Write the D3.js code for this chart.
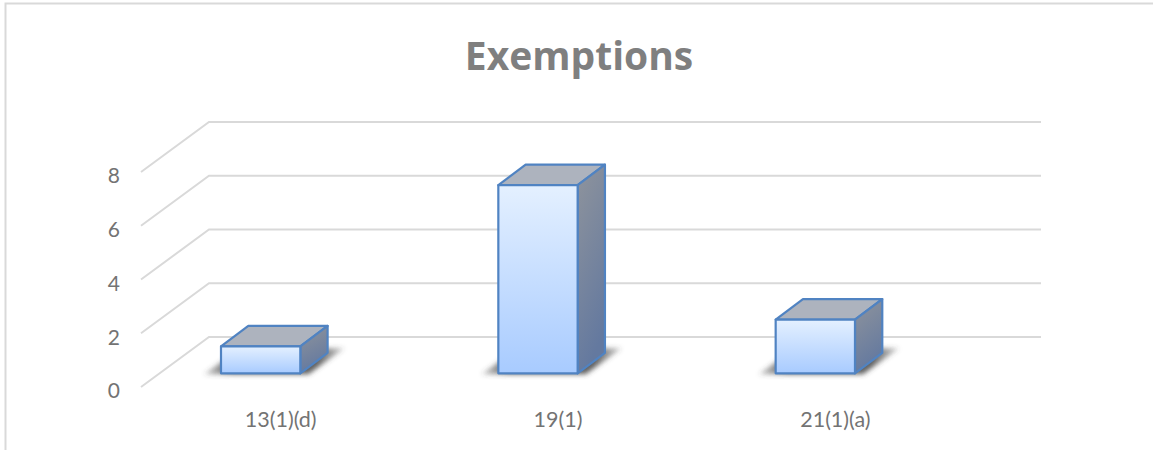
<!DOCTYPE html>
<html><head><meta charset="utf-8">
<script src="https://cdn.jsdelivr.net/npm/d3@7/dist/d3.min.js"></script>
<style>html,body{margin:0;padding:0;background:#fff}svg{display:block}text{font-variant-ligatures:none}</style>
</head><body><svg id="c" width="1153" height="450"></svg>
<script>
const categories = ["13(1)(d)", "19(1)", "21(1)(a)"];
const values = [1, 7, 2];
const tickValues = [0, 2, 4, 6, 8];
const titleText = "Exemptions";

const svg = d3.select("#c");
const font = "Lato, 'Open Sans', sans-serif";
const wallDx = 68, wallDy = -50;     // floor depth vector
const barDx = 27.3, barDy = -20.5;   // bar depth vector
const barInsetY = 13.7;              // bar front sits this far behind floor front
const y = d3.scaleLinear().domain([0, 8]).range([387, 172]);
const x = d3.scaleBand().domain(categories).range([141, 973]);
const barW = x.bandwidth() * 0.286;
const barX = d => x(d) + 80;

const defs = svg.append("defs");
const grad = (id, stops, x2, y2) => {
  const g = defs.append("linearGradient").attr("id", id).attr("x1", 0).attr("y1", 0).attr("x2", x2).attr("y2", y2);
  stops.forEach(([o, c]) => g.append("stop").attr("offset", o).attr("stop-color", c[0]).attr("stop-opacity", c[1] === undefined ? 1 : c[1]));
};
grad("front", [[0, ["#e4f0ff"]], [1, ["#a8cbff"]]], 0, 1);
grad("side", [[0, ["#8f949c"]], [1, ["#64799f"]]], 0.3, 1);
grad("shadow", [[0, ["#444", 0.25]], [0.2, ["#444", 0.85]], [0.8, ["#444", 0.85]], [1, ["#444", 0.25]]], 1, 0);
defs.append("filter").attr("id", "blur").attr("x", "-30%").attr("y", "-100%").attr("width", "160%").attr("height", "300%")
  .append("feGaussianBlur").attr("stdDeviation", 2.4);

// frame
svg.append("path").attr("d", "M5.5,450V3.5H1153").attr("fill", "none").attr("stroke", "#d9d9d9").attr("stroke-width", 2);

// title
svg.append("text").attr("x", 579).attr("y", 70).attr("text-anchor", "middle")
  .attr("font-family", "'Open Sans', sans-serif").attr("font-weight", 700).attr("font-size", 39).attr("fill", "#7f7f7f").text(titleText);

// grid: side wall diagonals and back wall
const grid = svg.append("g").attr("fill", "none").attr("stroke", "#d9d9d9").attr("stroke-width", 2);
tickValues.forEach(t => {
  grid.append("path").attr("d", d3.line()([
    [x.range()[0], y(t)],
    [x.range()[0] + wallDx, y(t) + wallDy],
    [x.range()[1] + wallDx, y(t) + wallDy]
  ]));
});

// axis labels
svg.append("g").selectAll("text").data(tickValues).join("text")
  .attr("x", 120).attr("y", d => y(d) + 4).attr("dy", "0.35em").attr("text-anchor", "end")
  .attr("font-family", font).attr("font-size", 21).attr("fill", "#737373").text(d => d);
svg.append("g").selectAll("text").data(categories).join("text")
  .attr("x", d => x(d) + x.bandwidth() / 2 + 1).attr("y", 427).attr("text-anchor", "middle")
  .attr("font-family", font).attr("font-size", 21.5).attr("fill", "#737373").text(d => d);

// bars
const base = y(0) - barInsetY;
const h = d3.scaleLinear().domain([0, 8]).range([0, y(0) - y(8)]);
const bars = svg.append("g").selectAll("g").data(categories.map((c, i) => ({c, v: values[i]}))).join("g");
bars.append("path").attr("filter", "url(#blur)").attr("fill", "url(#shadow)")
  .attr("d", d => { const l = barX(d.c), r = l + barW; return d3.line()([[l - 17, base + 1], [r + 8, base + 1], [r + 44, base - 25], [l + 20, base - 25]]) + "Z"; });
const st = s => s.attr("stroke", "#5083c2").attr("stroke-width", 2.2).attr("stroke-linejoin", "round");
bars.append("path").attr("fill", "#adb3be").call(st)
  .attr("d", d => { const l = barX(d.c), r = l + barW, t = base - h(d.v); return d3.line()([[l, t], [l + barDx, t + barDy], [r + barDx, t + barDy], [r, t]]) + "Z"; });
bars.append("path").attr("fill", "url(#side)").call(st)
  .attr("d", d => { const r = barX(d.c) + barW, t = base - h(d.v); return d3.line()([[r, t], [r + barDx, t + barDy], [r + barDx, base + barDy], [r, base]]) + "Z"; });
bars.append("rect").attr("fill", "url(#front)").call(st)
  .attr("x", d => barX(d.c)).attr("y", d => base - h(d.v)).attr("width", barW).attr("height", d => h(d.v));
</script></body></html>
